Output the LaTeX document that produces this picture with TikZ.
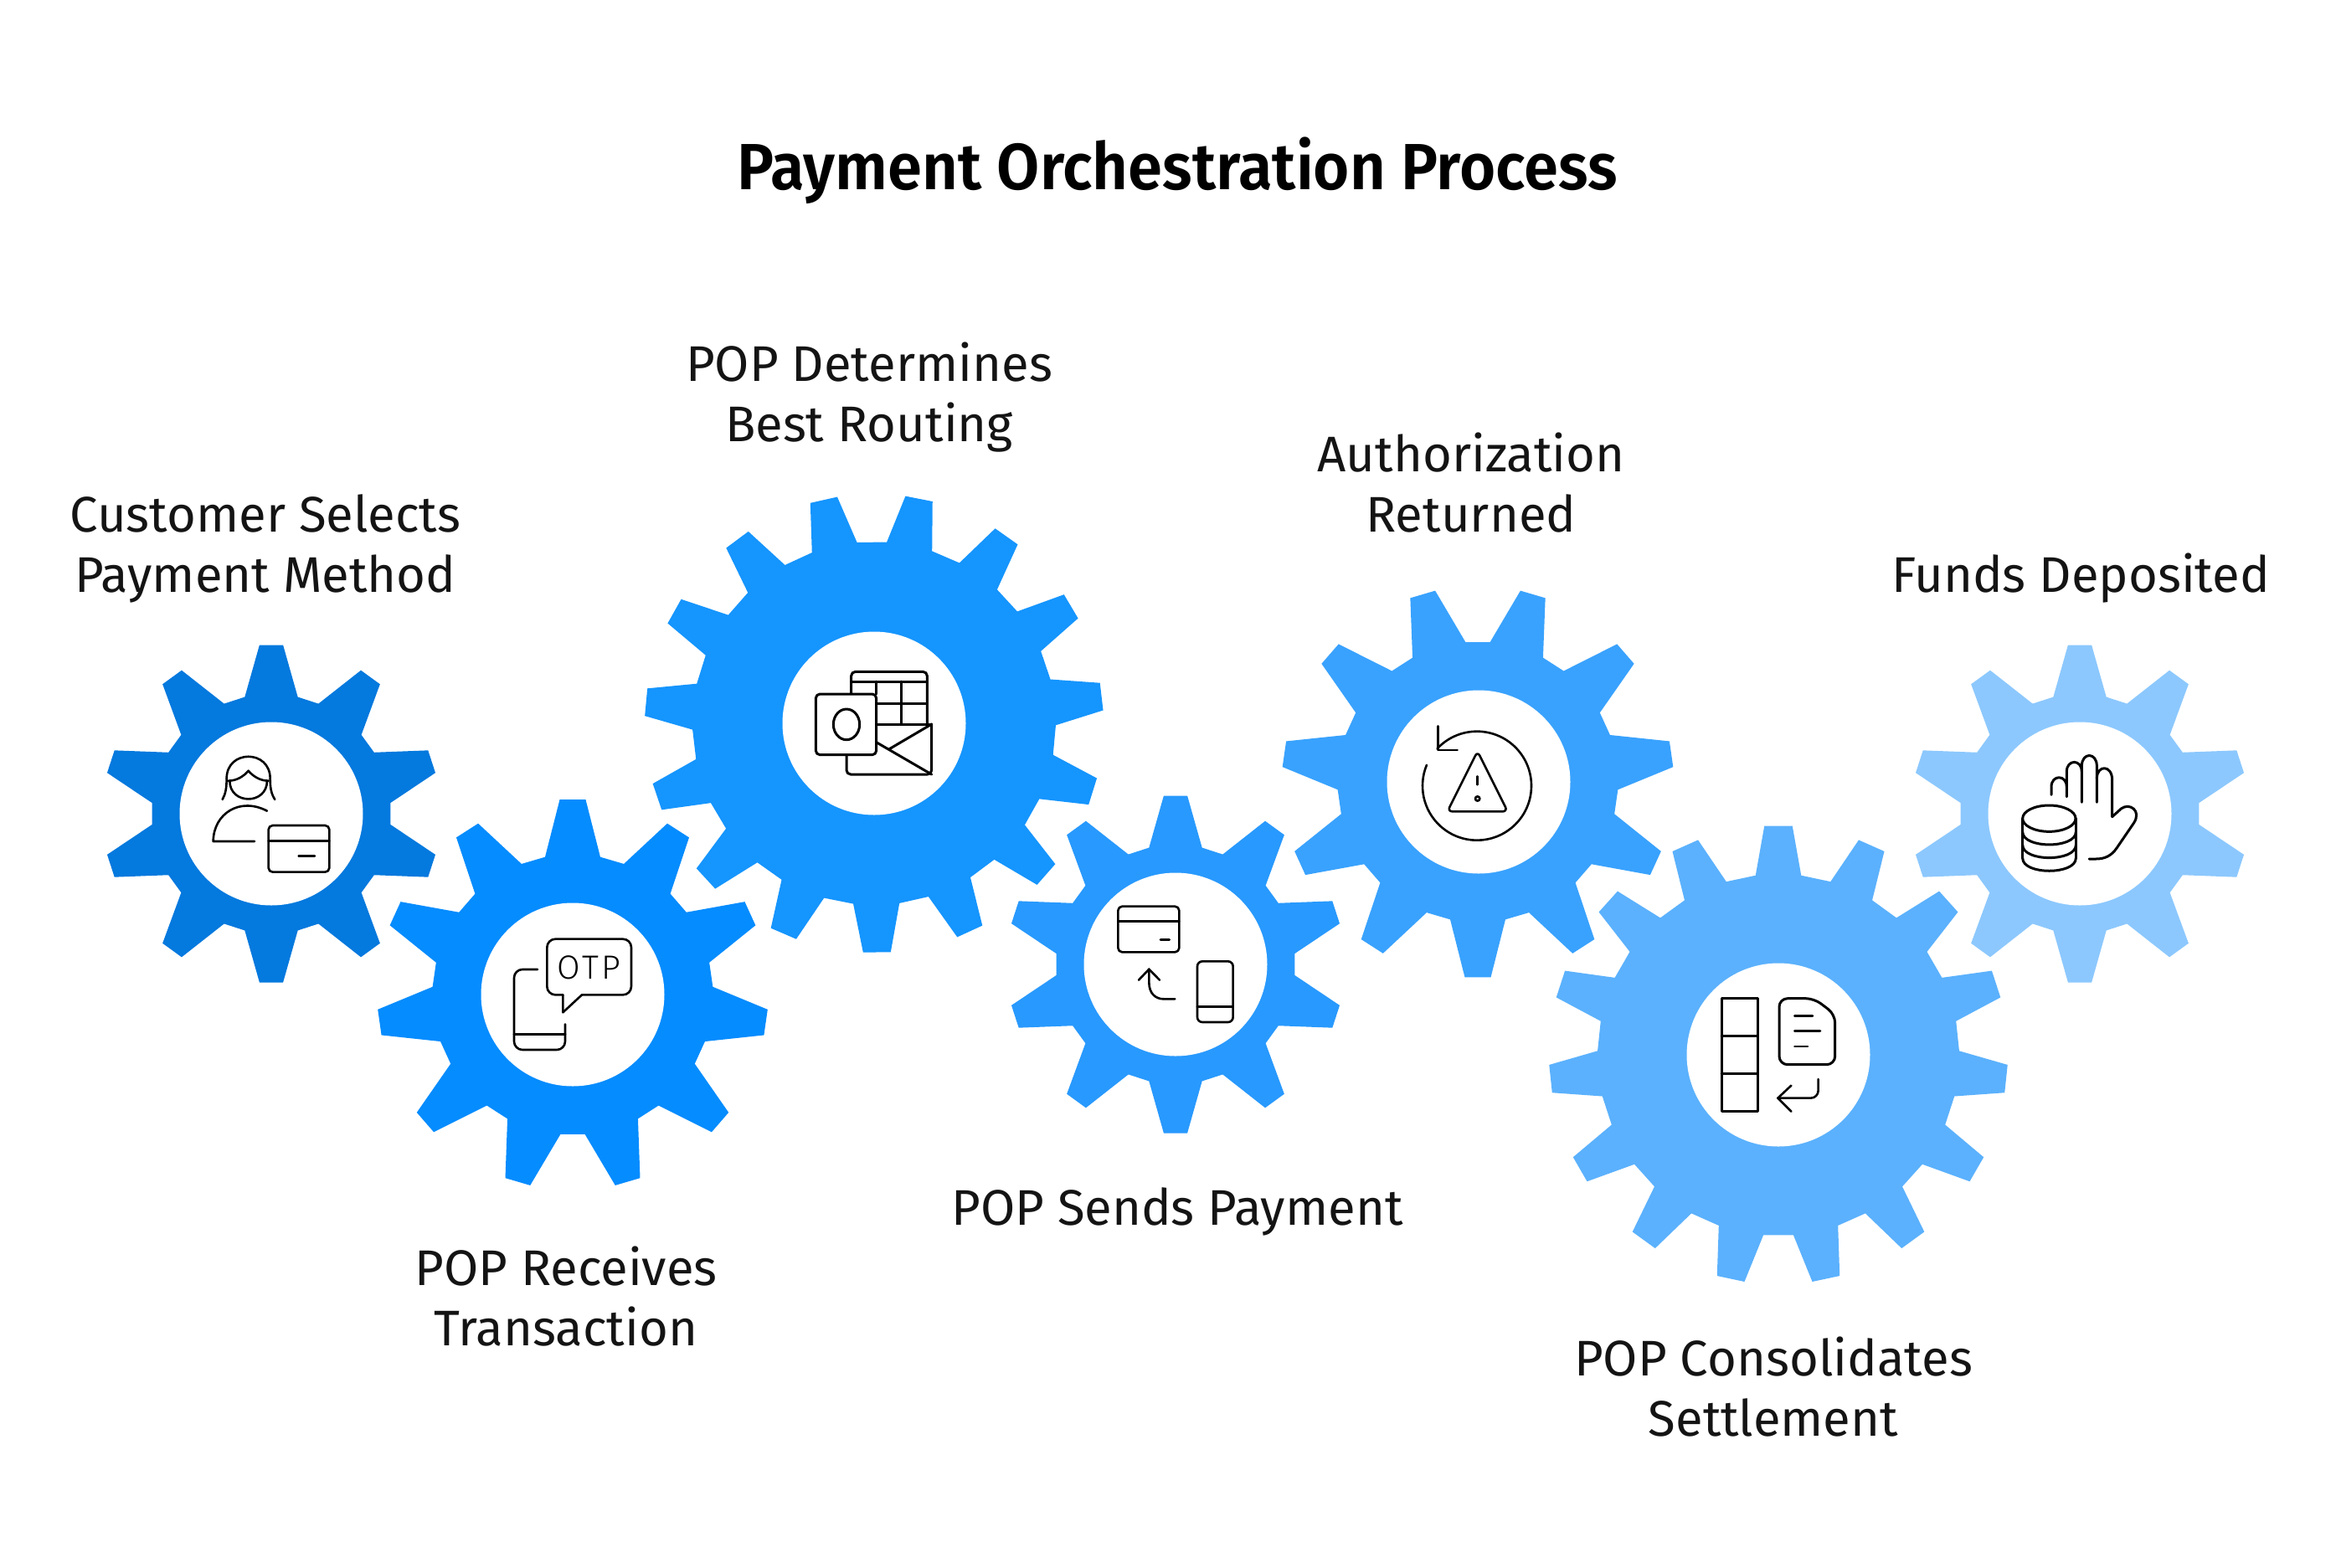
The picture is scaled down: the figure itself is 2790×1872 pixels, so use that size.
\documentclass[tikz,border=0pt]{standalone}
\usepackage{fontspec}
\usepackage{graphicx}
\setmainfont{Fira Sans}
\newfontfamily\otpfont[LetterSpace=9]{Fira Sans Light}
\newfontfamily\titlefont{Fira Sans SemiBold}
\definecolor{gA}{HTML}{0479DE}
\definecolor{gB}{HTML}{058CFF}
\definecolor{gC}{HTML}{1595FE}
\definecolor{gD}{HTML}{2899FE}
\definecolor{gE}{HTML}{39A2FE}
\definecolor{gF}{HTML}{5BB1FD}
\definecolor{gG}{HTML}{8CC8FE}
\tikzset{
  hole/.style={circle,fill=white,inner sep=0pt,minimum size=219pt},
  label/.style={align=center,font=\fontsize{59.8}{72}\selectfont,text=black!92,inner sep=0pt},
  ico/.style={draw=black,line width=2.6pt,line cap=round,line join=round},
  icob/.style={draw=black,line width=3pt,line cap=round,line join=round},
  zoomthree/.style={x=0.33333pt,y=-0.33333pt},
}
% cx cy n phase rtip rroot tiphalf basehalf colour
\newcommand{\geargear}[9]{%
  \pgfmathsetmacro{\stp}{360/#3}%
  \fill[#9] ({#1+#6*cos(#4-#8)},{#2-#6*sin(#4-#8)})
    \foreach \k in {1,...,#3}{%
      \pgfextra{\pgfmathsetmacro{\aa}{#4+(\k-1)*\stp}}%
      -- ({#1+#6*cos(\aa-#8)},{#2-#6*sin(\aa-#8)})
      -- ({#1+#5*cos(\aa-#7)},{#2-#5*sin(\aa-#7)})
      -- ({#1+#5*cos(\aa+#7)},{#2-#5*sin(\aa+#7)})
      -- ({#1+#6*cos(\aa+#8)},{#2-#6*sin(\aa+#8)})
    } -- cycle;%
}
\begin{document}
\begin{tikzpicture}[x=1pt,y=-1pt]
\path[use as bounding box,fill=white] (0,0) rectangle (2790,1872);

\geargear{324}{972}{10}{90}{202}{143}{4}{12.8}{gA}
\geargear{684}{1188}{11}{90}{233.5}{167.6}{3.8}{11.35}{gB}
\geargear{1044}{864}{15}{-89.3}{274}{217}{3.45}{7.3}{gC}
\geargear{1404}{1152}{10}{90}{202}{143}{4}{12.8}{gD}
\geargear{1765}{934}{11}{-90}{234}{167.6}{3.8}{11.35}{gE}
\geargear{2124}{1260}{15}{90}{274}{216}{3.5}{7.25}{gF}
\geargear{2484}{972}{10}{90}{202}{143}{4}{12.8}{gG}

\node[hole] (h1) at (324,972) {};
\node[hole] (h2) at (684,1188) {};
\node[hole] (h3) at (1044,864) {};
\node[hole] (h4) at (1404,1152) {};
\node[hole] (h5) at (1766,934) {};
\node[hole] (h6) at (2124,1260) {};
\node[hole] (h7) at (2484,972) {};

% title and labels
\node[inner sep=0pt,font=\titlefont\fontsize{78}{78}\selectfont,text=black] (title) at (1406,204) {\scalebox{0.951}[1]{Payment Orchestration Process}};
\node[label] (l1) at (317,655.5) {Customer Selects\\Payment Method};
\node[label] (l2) at (676,1548.5) {POP Receives\\Transaction};
\node[label] (l3) at (1038,475) {POP Determines\\Best Routing};
\node[label] (l4) at (1406,1447) {POP Sends Payment};
\node[label] (l5) at (1757,576.5) {Authorization\\Returned};
\node[label] (l6) at (2118,1656.5) {POP Consolidates\\Settlement};
\node[label] (l7) at (2485,690.5) {Funds Deposited};

% icon 1: person and card
\begin{scope}[shift={(100,750)},zoomthree]
\draw[ico] (512,540) .. controls (512,435) and (668,435) .. (668,540);
\draw[ico] (523,548) .. controls (523,635) and (657,635) .. (657,548);
\draw[ico] (518,548) .. controls (550,548) and (575,530) .. (590,512) .. controls (605,530) and (630,548) .. (662,548);
\draw[ico] (512,540) .. controls (512,575) and (508,595) .. (497,615);
\draw[ico] (668,540) .. controls (668,575) and (672,595) .. (685,615);
\draw[ico] (657,656) .. controls (560,605) and (465,665) .. (464,765) -- (612,765);
\draw[ico,rounded corners=5pt] (662,708) rectangle (880,875);
\draw[ico] (662,763) -- (880,763);
\draw[ico] (770,818) -- (828,818);
\end{scope}

% icon 2: OTP phone
\begin{scope}[shift={(430,940)},zoomthree]
\draw[ico,rounded corners=10pt] (795,745) -- (972,745) -- (972,545) -- (670,545) -- (670,745) -- (727,745);
\draw[ico] (727,745) -- (727,808) -- (795,745);
\draw[ico,rounded corners=10pt] (636,654) -- (552,654) -- (552,942) -- (735,942) -- (735,850);
\draw[ico] (552,886) -- (735,886);
\node[inner sep=0pt,font=\otpfont\fontsize{40}{40}\selectfont] (otp) at (820,647) {OTP};
\end{scope}

% icon 3: routing apps
\begin{scope}[shift={(930,760)},zoomthree]
\draw[icob,rounded corners=5pt] (260,205) -- (260,127) -- (532,127) -- (532,315);
\draw[icob] (260,162) -- (532,162);
\draw[icob] (350,162) -- (350,207);
\draw[icob] (440,162) -- (440,315);
\draw[icob] (350,240) -- (532,240);
\draw[icob] (350,315) -- (548,315);
\draw[icob,rounded corners=5pt] (548,315) -- (548,495) -- (243,495) -- (243,425);
\draw[icob] (350,380) -- (548,495);
\draw[icob] (395,405) -- (548,315);
\draw[icob,rounded corners=5pt] (133,207) rectangle (350,425);
\draw[icob] (243,316) ellipse [x radius=47,y radius=55];
\end{scope}

% icon 4: card, arrow, phone
\begin{scope}[shift={(1190,930)},zoomthree]
\draw[ico,rounded corners=5pt] (436,458) rectangle (655,622);
\draw[ico] (436,512) -- (655,512);
\draw[icob] (588,577) -- (620,577);
\draw[ico] (510,722) -- (547,683) -- (585,722);
\draw[ico] (547,683) -- (547,730) .. controls (547,770) and (570,790) .. (600,790) -- (640,790);
\draw[ico,rounded corners=6pt] (720,655) rectangle (848,873);
\draw[ico] (720,817) -- (848,817);
\end{scope}

% icon 5: warning and return
\begin{scope}[shift={(1520,690)},zoomthree]
\coordinate (ringc) at (732,746);
\draw[ico] (ringc) ++(-137:195) arc [start angle=-137,end angle=202.5,radius=195];
\draw[ico] (593,532) -- (593,618) -- (662,618);
\draw[ico,rounded corners=6pt] (734,622) -- (842,838) -- (626,838) -- cycle;
\draw[ico] (734,712) -- (734,742);
\draw[ico] (734,792) circle [radius=8];
\end{scope}

% icon 6: stack, document, return
\begin{scope}[shift={(2030,1170)},zoomthree]
\draw[icob] (78,66) rectangle (207,473);
\draw[icob] (78,202) -- (207,202);
\draw[icob] (78,338) -- (207,338);
\draw[icob,rounded corners=10pt] (285,68) -- (410,68) -- (485,125) -- (485,305) -- (285,305) -- cycle;
\draw[ico] (340,131) -- (405,131);
\draw[ico] (340,185) -- (432,185);
\draw[ico] (340,240) -- (387,240);
\draw[ico,rounded corners=9pt] (425,357) -- (425,425) -- (280,425);
\draw[ico] (328,380) -- (280,425) -- (328,473);
\end{scope}

% icon 7: coins and hand
\begin{scope}[shift={(2400,890)},zoomthree]
\draw[icob] (142,263) ellipse [x radius=95,y radius=47];
\draw[icob] (47,263) -- (47,405);
\draw[icob] (238,263) -- (238,405);
\draw[icob] (47,311) .. controls (47,372) and (238,372) .. (238,311);
\draw[icob] (47,358) .. controls (47,419) and (238,419) .. (238,358);
\draw[icob] (47,405) .. controls (47,466) and (238,466) .. (238,405);
\draw[icob] (150,178) -- (150,150) .. controls (150,105) and (205,105) .. (205,150) -- (205,185);
\draw[icob] (205,150) -- (205,95) .. controls (205,50) and (259,50) .. (259,95) -- (259,205);
\draw[icob] (259,95) -- (259,75) .. controls (259,25) and (313,25) .. (313,75) -- (313,205);
\draw[icob] (313,120) .. controls (313,70) and (368,70) .. (368,125) -- (368,257)
  -- (400,228) .. controls (430,205) and (475,235) .. (445,280) -- (385,368) .. controls (365,398) and (340,408) .. (310,408) -- (285,408);
\end{scope}
\end{tikzpicture}
\end{document}
